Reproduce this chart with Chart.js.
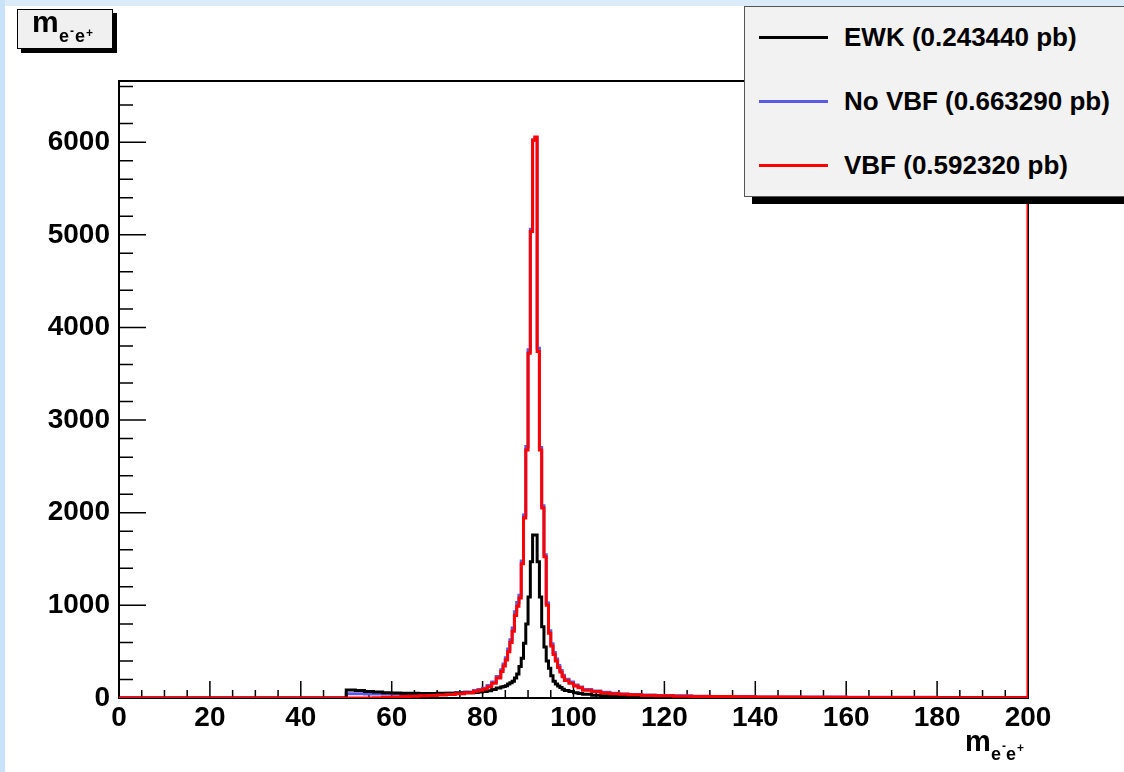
<!DOCTYPE html>
<html>
<head>
<meta charset="utf-8">
<title>m_ee</title>
<script src="https://cdn.jsdelivr.net/npm/chart.js@4.4.1/dist/chart.umd.min.js"></script>
<style>
  body { margin: 0; width: 1124px; height: 772px; overflow: hidden; background: #fff; position: relative;
         font-family: "Liberation Sans", Arial, Helvetica, sans-serif; font-weight: bold; }
  #plot { position: absolute; left: 0; top: 0; }
  .box { position: absolute; box-sizing: border-box; }
  .txt { position: absolute; line-height: 1; white-space: nowrap; color: #000; }
</style>
</head>
<body>
<div class="box" style="left:0;top:0;width:1124px;height:6px;background:#dbebf8"></div>
<div class="box" style="left:0;top:0;width:5px;height:772px;background:#c8e3f9"></div>
<canvas id="plot" width="1124" height="772"></canvas>
<div id="overlay"></div>
<script>
'use strict';

// lower edge of every bin (GeV), last entry closes the final bin
var binEdges = [0, 50, 52, 54, 56, 58, 60, 62, 64, 66,
  68, 70, 72, 74, 76, 78, 79, 80, 81, 82,
  83, 84, 84.5, 85, 85.5, 86, 86.5, 87, 87.5, 88,
  88.5, 89, 89.5, 90, 90.5, 91, 91.5, 92, 92.5, 93,
  93.5, 94, 94.5, 95, 95.5, 96, 96.5, 97, 97.5, 98,
  99, 100, 101, 102, 104, 106, 108, 110, 112, 115,
  118, 122, 126, 130, 135, 140, 150, 160, 170, 180,
  190, 199.5, 200];

// entries per bin
var ewkCounts = [0, 86, 80, 70, 64, 58, 54, 51, 50, 49,
  49, 50, 51, 53, 56, 60, 64, 70, 78, 92,
  108, 118, 125, 132, 150, 165, 180, 215, 260, 340,
  430, 590, 800, 1090, 1470, 1760, 1760, 1470, 1090, 770,
  550, 400, 320, 240, 180, 150, 130, 112, 95, 82,
  70, 58, 48, 40, 30, 25, 20, 17, 13, 10,
  7, 5, 3, 2, 1, 0, 0, 0, 0, 0,
  0, 0];

var noVbfCounts = [0, 46, 45, 44, 43, 43, 43, 43, 44, 45,
  46, 48, 51, 56, 65, 80, 92, 106, 135, 172,
  232, 305, 368, 435, 528, 630, 755, 930, 1030, 1110,
  1480, 1975, 2715, 3760, 5060, 6025, 6045, 3775, 2705, 2075,
  1545, 1025, 725, 585, 492, 420, 350, 296, 245, 203,
  172, 140, 118, 93, 76, 61, 51, 44, 38, 32,
  27, 23, 20, 17, 15, 12, 10, 8, 7, 6,
  5, 4];

var vbfCounts = [0, 0, 0, 1, 3, 7, 11, 15, 19, 23,
  28, 33, 39, 46, 58, 72, 84, 96, 122, 158,
  215, 285, 345, 410, 500, 600, 720, 890, 990, 1080,
  1450, 1944, 2678, 3722, 5036, 6020, 6055, 3740, 2678, 2052,
  1526, 1000, 700, 560, 470, 400, 330, 280, 230, 190,
  160, 130, 110, 85, 70, 55, 46, 40, 34, 28,
  24, 20, 17, 15, 13, 10, 8, 6, 5, 4,
  3, 2];
// VBF shoots far off the scale at the upper edge
var vbfOverflow = 20000;

var xTickValues = [0, 20, 40, 60, 80, 100, 120, 140, 160, 180, 200];
var yTickValues = [0, 1000, 2000, 3000, 4000, 5000, 6000];
var xMinorStep = 5;
var yMinorStep = 200;
var yMax = 6660;

var legendLabels = ['EWK (0.243440 pb)', 'No VBF (0.663290 pb)', 'VBF (0.592320 pb)'];
var legendColors = ['#000000', '#5b5be6', '#ff0000'];

// turn bin contents into step points
function toPoints(counts, lastY) {
  var pts = [];
  for (let i = 0; i < counts.length; i++) {
    pts.push({ x: binEdges[i], y: counts[i] });
  }
  pts.push({ x: binEdges[binEdges.length - 1], y: lastY });
  return pts;
}

// frame and inward ROOT-like ticks
var frameTicks = {
  id: 'frameTicks',
  beforeDatasetsDraw: function(chart) {
    var ctx = chart.ctx, a = chart.chartArea;
    var xs = chart.scales.x, ys = chart.scales.y;
    ctx.save();
    ctx.strokeStyle = '#000';
    ctx.lineWidth = 2;
    ctx.strokeRect(a.left, a.top, a.right - a.left, a.bottom - a.top);
    ctx.lineWidth = 1.5;
    ctx.beginPath();
    for (let v = 0; v <= 200; v += xMinorStep) {
      var px = xs.getPixelForValue(v);
      var len = (v % 20 === 0) ? 17 : 8;
      ctx.moveTo(px, a.bottom);
      ctx.lineTo(px, a.bottom - len);
    }
    for (let w = 0; w <= yMax; w += yMinorStep) {
      var py = ys.getPixelForValue(w);
      var len2 = (w % 1000 === 0) ? 27 : 14;
      ctx.moveTo(a.left, py);
      ctx.lineTo(a.left + len2, py);
    }
    ctx.stroke();
    ctx.restore();
  }
};

var tickFont = { family: '"Liberation Sans", Arial, Helvetica, sans-serif', size: 28, weight: 'bold' };
function plainLabel(value) { return String(value); }

var ctx = document.getElementById('plot').getContext('2d');
var chart = new Chart(ctx, {
  type: 'line',
  data: {
    datasets: [
      { label: legendLabels[0], data: toPoints(ewkCounts, ewkCounts[ewkCounts.length - 1]),
        borderColor: legendColors[0], order: 1 },
      { label: legendLabels[1], data: toPoints(noVbfCounts, noVbfCounts[noVbfCounts.length - 1]),
        borderColor: legendColors[1], order: 2 },
      { label: legendLabels[2], data: toPoints(vbfCounts, vbfOverflow),
        borderColor: legendColors[2], order: 0 }
    ]
  },
  options: {
    responsive: false,
    devicePixelRatio: 1,
    animation: false,
    datasets: {
      line: { stepped: 'before', borderWidth: 3, pointRadius: 0, fill: false, tension: 0 }
    },
    layout: { padding: { left: 0, top: 81, right: 96, bottom: 0 } },
    plugins: { legend: { display: false }, tooltip: { enabled: false } },
    scales: {
      x: {
        type: 'linear', min: 0, max: 200,
        grid: { display: false, drawTicks: false },
        border: { display: false },
        ticks: { font: tickFont, color: '#000', padding: 3, maxRotation: 0, autoSkip: false, callback: plainLabel },
        afterBuildTicks: function(axis) { axis.ticks = xTickValues.map(function(v) { return { value: v }; }); },
        afterFit: function(axis) { axis.height = 74; }
      },
      y: {
        type: 'linear', min: 0, max: yMax,
        grid: { display: false, drawTicks: false },
        border: { display: false },
        ticks: { font: tickFont, color: '#000', padding: 9, autoSkip: false, callback: plainLabel },
        afterBuildTicks: function(axis) { axis.ticks = yTickValues.map(function(v) { return { value: v }; }); },
        afterFit: function(axis) { axis.width = 119; }
      }
    }
  },
  plugins: [frameTicks]
});

// overlay boxes and texts (title pave, legend, axis title)
var overlay = document.getElementById('overlay');
function addBox(x, y, w, h, css) {
  var d = document.createElement('div');
  d.className = 'box';
  d.style.cssText = 'left:' + x + 'px;top:' + y + 'px;width:' + w + 'px;height:' + h + 'px;' + css;
  overlay.appendChild(d);
  return d;
}
function addText(str, x, baseline, size) {
  var d = document.createElement('div');
  d.className = 'txt';
  d.textContent = str;
  d.style.left = x + 'px';
  d.style.top = (baseline - 0.8465 * size) + 'px';
  d.style.fontSize = size + 'px';
  overlay.appendChild(d);
  return d;
}

// title pave
addBox(21, 13, 96, 40, 'background:#000');
addBox(17, 9, 96, 40, 'background:#f0f0f0;border:1px solid #000');
addText('m', 32, 32, 30);
addText('e', 59, 42, 18);
addText('-', 70, 35, 12);
addText('e', 75, 42, 18);
addText('+', 86, 37.5, 12);

// x axis title
addText('m', 965, 752, 29);
addText('e', 991, 760, 18);
addText('-', 1002, 750, 12);
addText('e', 1006, 760, 18);
addText('+', 1017, 752, 12);

// legend
addBox(752, 13, 400, 191, 'background:#000');
addBox(744, 6, 400, 191, 'background:#f2f2f2;border:1px solid #555');
var legendY = [37.5, 101, 165.5];
for (let i = 0; i < legendLabels.length; i++) {
  addBox(759, legendY[i] - 1.5, 69, 3, 'background:' + legendColors[i]);
  addText(legendLabels[i], 844, legendY[i] + 9, 26);
}
</script>
</body>
</html>
